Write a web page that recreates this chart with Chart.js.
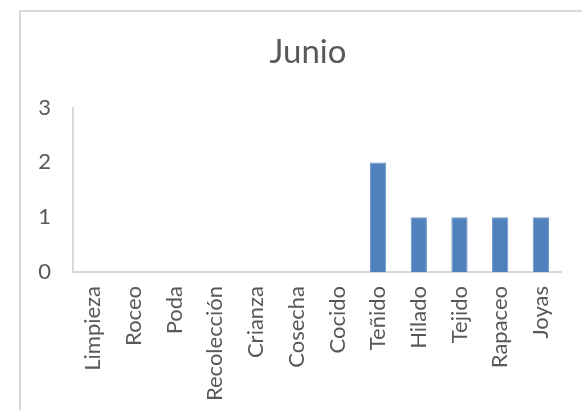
<!DOCTYPE html>
<html>
<head>
<meta charset="utf-8">
<script src="https://cdn.jsdelivr.net/npm/chart.js@4/dist/chart.umd.min.js"></script>
<style>
  html, body { margin: 0; padding: 0; background: #ffffff; overflow: hidden; }
  #frame { position: absolute; left: 19px; top: 10px; width: 600px; height: 420px;
           border-left: 2px solid #d9d9d9; border-top: 2px solid #d9d9d9; }
  #wrap { position: absolute; left: 0; top: 0; width: 582px; height: 410px; }
</style>
</head>
<body>
<div id="frame"></div>
<div id="wrap"><canvas id="c" width="582" height="410"></canvas></div>
<script>
const chartTitle = "Junio";
const categories = ["Limpieza", "Roceo", "Poda", "Recolección", "Crianza", "Cosecha", "Cocido", "Teñido", "Hilado", "Tejido", "Rapaceo", "Joyas"];
const values = [0, 0, 0, 0, 0, 0, 0, 2, 1, 1, 1, 1];
const yTicks = [0, 1, 2, 3];

const textColor = "#595959";
const fontFamily = "Lato, 'Open Sans', sans-serif";

const shiftTitle = {
  id: "shiftTitle",
  afterLayout(chart) {
    if (chart.titleBlock) { chart.titleBlock.left = 52; }
  }
};

new Chart(document.getElementById("c"), {
  type: "bar",
  data: {
    labels: categories,
    datasets: [{
      data: values,
      backgroundColor: "#4f81bd",
      borderColor: "#6f97c9",
      borderWidth: 1,
      barPercentage: 0.4,
      categoryPercentage: 1.0
    }]
  },
  plugins: [shiftTitle],
  options: {
    responsive: false,
    animation: false,
    devicePixelRatio: 1,
    layout: { padding: { left: 0, right: 18, top: 33, bottom: 0 } },
    plugins: {
      legend: { display: false },
      tooltip: { enabled: false },
      title: {
        display: true,
        text: chartTitle,
        color: textColor,
        font: { family: fontFamily, size: 33, weight: "normal" },
        padding: { top: 0, bottom: 35 }
      }
    },
    scales: {
      x: {
        grid: { display: false, drawTicks: false },
        border: { display: true, color: "#d9d9d9", width: 2 },
        ticks: {
          color: textColor,
          font: { family: fontFamily, size: 22 },
          minRotation: 90,
          maxRotation: 90,
          autoSkip: false,
          padding: 14
        },
        afterFit: (s) => { s.height = 138; }
      },
      y: {
        min: 0,
        max: 3,
        afterBuildTicks: (s) => { s.ticks = yTicks.map(v => ({ value: v })); },
        grid: { display: false, drawTicks: false },
        border: { display: true, color: "#d9d9d9", width: 2 },
        ticks: {
          color: textColor,
          font: { family: fontFamily, size: 22 },
          padding: 22
        },
        afterFit: (s) => { s.width = 73; }
      }
    }
  }
});
</script>
</body>
</html>
